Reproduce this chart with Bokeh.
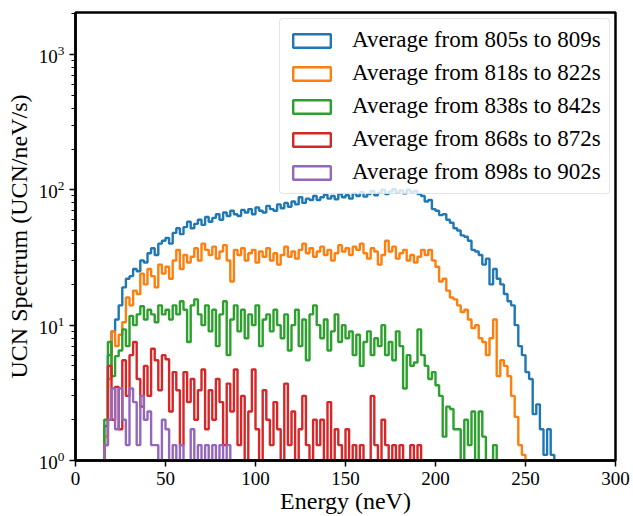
from bokeh.plotting import figure
from bokeh.models import Range1d, FixedTicker, Legend, LegendItem
from bokeh.embed import file_html
from bokeh.resources import INLINE

# ---- data (UCN spectrum, 2 neV bins starting at 16 neV) ----
bin_start = 16.0
bin_width = 2.0

labels = [
    "Average from 805s to 809s",
    "Average from 818s to 822s",
    "Average from 838s to 842s",
    "Average from 868s to 872s",
    "Average from 898s to 902s",
]
colors = ["#1f77b4", "#ff7f0e", "#2ca02c", "#d62728", "#9467bd"]

blue = [1.8, 6, 9, 11, 14, 19, 22, 23, 26, 25, 30, 29, 34, 37, 33, 40, 42, 44, 40, 48,
        52, 47, 53, 58, 52, 56, 60, 55, 63, 58, 62, 66, 60, 68, 64, 70, 66, 64, 71, 68,
        72, 66, 74, 70, 68, 76, 72, 70, 78, 73, 80, 75, 82, 78, 88, 80, 86, 84, 90, 84,
        88, 92, 86, 90, 85, 93, 88, 91, 86, 94, 90, 96, 89, 93, 98, 91, 95, 100, 93, 97,
        101, 95, 99, 94, 100, 96, 98, 93, 90, 82, 84, 72, 70, 65, 66, 60, 57, 52, 50, 46,
        45, 42, 36, 35, 33, 28, 31, 20, 26, 22, 20, 17, 15, 14, 10, 7, 6, 4.5, 4, 2.2,
        2.6, 1.7, 1.1, 1.7, 1.1]

orange = [1.5, 4, 9, 7, 8.5, 10.5, 16, 14, 18, 17, 24, 20, 26, 23, 19, 28, 24, 27, 22, 30,
          36, 26, 33, 29, 32, 37, 30, 40, 36, 33, 38, 31, 35, 39, 30, 21, 36, 33, 37, 30,
          34, 36, 29, 35, 32, 37, 30, 34, 28, 33, 38, 32, 35, 31, 36, 40, 34, 37, 32, 35,
          38, 33, 36, 30, 34, 39, 35, 37, 33, 38, 36, 40, 34, 31, 37, 35, 28, 33, 42, 35,
          38, 31, 34, 36, 30, 33, 29, 32, 36, 33, 36, 30, 27, 21, 22, 18, 16, 15.5, 14, 12.5,
          13, 11, 9.5, 10, 8, 7.5, 6, 8, 11, 4.2, 5.5, 5, 4.2, 3, 2.1, 1.3, 1.1]

green = [2, 7.5, 4.2, 5.9, 6.5, 9.3, 7, 11.7, 10, 12, 13.8, 11, 13, 12, 10.5, 14, 12, 13, 11, 14,
         12, 15, 13, 7.5, 14, 15.5, 12, 10, 14, 9, 13, 7, 12, 15, 6, 11, 14, 9, 13, 8,
         12, 10, 14, 7, 11, 12, 9, 13, 10, 8, 12, 6.5, 10, 13, 7, 11, 5.5, 12, 14, 10,
         8, 11, 6.5, 9, 12, 7.5, 10, 8, 9, 6, 8.5, 5, 7.5, 9, 6, 8, 7, 10, 6, 7.5,
         5.5, 9, 7, 3.4, 6, 5, 5.3, 9.3, 6, 5, 4, 4.5, 3.6, 3, 1.5, 2.5, 2.4, 1.7, 1.7, 0,
         2, 1.3, 2.3, 0, 2.3, 1.5, 0, 0, 1.3, 0]

red = [1.3, 5, 2, 3.5, 1.7, 5.5, 3, 6, 7.5, 4, 2.5, 5, 3, 6.7, 5.5, 3.3, 6, 5.6, 2.3, 4.5,
       3.3, 1.3, 4.5, 2.7, 4, 2, 3.3, 4.7, 1.7, 3.3, 2, 4, 2.7, 1.3, 3.7, 2.3, 4.7, 1.3, 3, 0,
       2.3, 4.7, 1.7, 0, 3.3, 2, 1.3, 2.7, 1.7, 0, 3.7, 1.3, 2.3, 0, 1.7, 3, 1.3, 0, 2, 1.3,
       2, 0, 2.7, 0, 1.7, 1.3, 0, 1.7, 0, 1.3, 0, 1.3, 0, 0, 3, 1.3, 0, 2, 1.3, 0,
       1.3, 0, 1.3, 0, 0, 1.3, 0, 1.3, 0]

purple = [1.3, 2, 3.4, 1.7, 3.4, 2, 1.3, 3.4, 2.7, 1.3, 3, 2, 2.3, 1.3, 1.3, 0, 2, 1.7, 0, 1.3,
          0, 1.3, 0, 0, 1.7, 0, 1.3, 0, 1.3, 0, 1.3, 0, 1.3, 0, 1.3, 0]

series = [blue, orange, green, red, purple]

x_ticks = [0, 50, 100, 150, 200, 250, 300]

# ---- figure ----
p = figure(width=633, height=516, output_backend="svg", toolbar_location=None,
           x_range=Range1d(0, 300), y_range=Range1d(1, 2040), y_axis_type="log",
           min_border_left=75, min_border_right=18, min_border_top=12, min_border_bottom=54)

p.background_fill_color = "white"
p.border_fill_color = "white"
p.outline_line_color = "black"
p.outline_line_width = 2.5
p.xgrid.visible = False
p.ygrid.visible = False

FLOOR = 0.1
items = []
for vals, col, lab in zip(series, colors, labels):
    xs, ys = [], []
    for i, v in enumerate(vals):
        lo = bin_start + i * bin_width
        hi = lo + bin_width
        vv = v if v > 0 else FLOOR
        if i == 0:
            xs.append(lo); ys.append(FLOOR)
        xs += [lo, hi]
        ys += [vv, vv]
    xs.append(bin_start + len(vals) * bin_width); ys.append(FLOOR)
    r = p.patch(xs, ys, fill_color=None, line_color=col, line_width=2.4)
    items.append(LegendItem(label=lab, renderers=[r]))

legend = Legend(items=items, location=(204, 266))
legend.label_text_font = "Liberation Serif"
legend.label_text_font_size = "23px"
legend.label_text_color = "#000000"
legend.glyph_width = 47
legend.glyph_height = 17
legend.label_height = 20
legend.label_standoff = 17
legend.spacing = 7
legend.padding = 8
legend.margin = 0
legend.border_line_color = "#cccccc"
legend.border_line_width = 1
legend.border_radius = 4
legend.background_fill_alpha = 0.8
p.add_layout(legend)

for ax in (p.xaxis[0], p.yaxis[0]):
    ax.axis_line_color = "black"
    ax.axis_line_width = 2.5
    ax.major_tick_line_color = "black"
    ax.major_tick_line_width = 1.5
    ax.major_tick_out = 6
    ax.major_tick_in = 0
    ax.minor_tick_out = 4
    ax.minor_tick_in = 0
    ax.major_label_text_font = "Liberation Serif"
    ax.major_label_text_font_size = "19px"
    ax.major_label_text_color = "#000000"
    ax.axis_label_text_font = "Liberation Serif"
    ax.axis_label_text_font_size = "24px"
    ax.axis_label_text_font_style = "normal"
    ax.axis_label_text_color = "#000000"

p.xaxis[0].ticker = FixedTicker(ticks=x_ticks)
p.xaxis[0].minor_tick_line_color = None
p.xaxis[0].axis_label = "Energy (neV)"
p.xaxis[0].axis_label_standoff = 0
p.yaxis[0].axis_label = "UCN Spectrum (UCN/neV/s)"
p.yaxis[0].axis_label_standoff = 4
p.yaxis[0].minor_tick_line_color = "black"

open("out.html", "w").write(file_html(p, INLINE))
